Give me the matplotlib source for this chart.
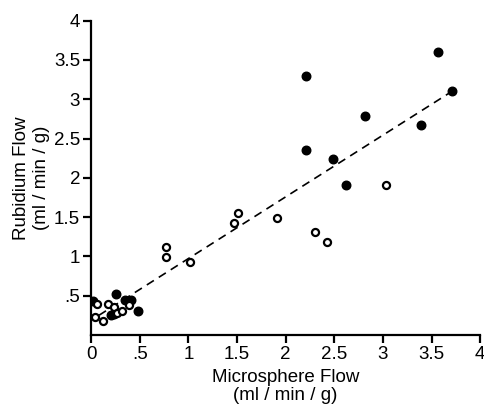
import matplotlib
matplotlib.use("Agg")
import matplotlib.pyplot as plt
import numpy as np

# filled circles
filled_x = [0.02, 0.20, 0.23, 0.26, 0.35, 0.41, 0.48, 2.21, 2.21, 2.49, 2.62, 2.82, 3.39, 3.57, 3.71]
filled_y = [0.43, 0.25, 0.27, 0.52, 0.44, 0.45, 0.31, 3.29, 2.35, 2.24, 1.91, 2.79, 2.67, 3.60, 3.11]
# open circles
open_x = [0.06, 0.04, 0.12, 0.17, 0.23, 0.27, 0.32, 0.39, 0.77, 0.77, 1.02, 1.47, 1.51, 1.91, 2.30, 2.43, 3.03]
open_y = [0.39, 0.23, 0.18, 0.39, 0.35, 0.28, 0.31, 0.38, 1.12, 0.99, 0.93, 1.42, 1.55, 1.49, 1.31, 1.18, 1.91]
# regression line
line_x = [0.08, 3.71]
line_y = [0.25, 3.10]

x_ticks = [0, 0.5, 1, 1.5, 2, 2.5, 3, 3.5, 4]
x_ticklabels = ["0", ".5", "1", "1.5", "2", "2.5", "3", "3.5", "4"]
y_ticks = [0.5, 1, 1.5, 2, 2.5, 3, 3.5, 4]
y_ticklabels = [".5", "1", "1.5", "2", "2.5", "3", "3.5", "4"]

plt.rcParams['font.family'] = ['Liberation Sans', 'DejaVu Sans']

fig = plt.figure(figsize=(4.85, 4.05), dpi=100)
ax = fig.add_axes([0.188, 0.173, 0.802, 0.776])

ax.plot(line_x, line_y, color='black', lw=1.2, dashes=(5, 3.5))
ax.scatter(filled_x, filled_y, s=38, color='black', zorder=3)
ax.scatter(open_x, open_y, s=26, facecolor='white', edgecolor='black', linewidths=1.6, zorder=3)

ax.set_xlim(0, 4)
ax.set_ylim(0, 4)
ax.set_xticks(x_ticks)
ax.set_xticklabels(x_ticklabels)
ax.set_yticks(y_ticks)
ax.set_yticklabels(y_ticklabels)
for s in ['top', 'right']:
    ax.spines[s].set_visible(False)
for s in ['left', 'bottom']:
    ax.spines[s].set_linewidth(1.6)
ax.tick_params(direction='out', length=6, width=1.6, labelsize=13.5, pad=2)

ax.set_xlabel("Microsphere Flow\n(ml / min / g)", fontsize=13.5, labelpad=4, linespacing=1.12)
ax.set_ylabel("Rubidium Flow\n(ml / min / g)", fontsize=13.5, labelpad=3, linespacing=1.2)

fig.savefig("out.png", dpi=100)
